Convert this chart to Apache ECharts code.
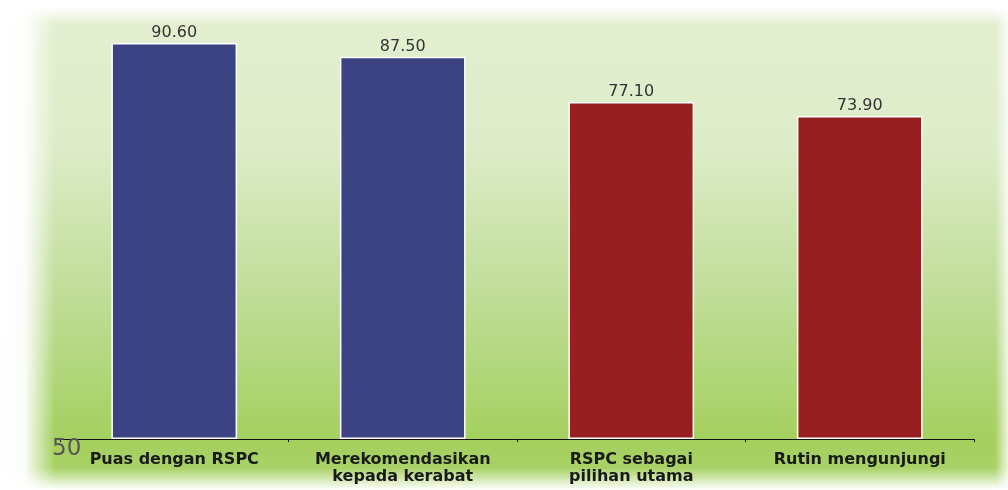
<!DOCTYPE html>
<html>
<head>
<meta charset="utf-8">
<script src="https://cdn.jsdelivr.net/npm/echarts@6/dist/echarts.min.js"></script>
<style>html,body{margin:0;padding:0;background:#fff}#c{width:1008px;height:490px}</style>
</head>
<body>
<div id="c"></div>
<script>
const categories = ['Puas dengan RSPC', 'Merekomendasikan\nkepada kerabat', 'RSPC sebagai\npilihan utama', 'Rutin mengunjungi'];
const values = [90.60, 87.50, 77.10, 73.90];
const barColors = ['#3b4382', '#3b4382', '#971f1f', '#971f1f'];
const baseLabel = '50';

const chart = echarts.init(document.getElementById('c'));
chart.setOption({
  animation: false,
  backgroundColor: '#ffffff',
  graphic: [
    { type: 'rect', z: -10, silent: true, shape: { x: 0, y: 0, width: 1008, height: 490 },
      style: { fill: new echarts.graphic.LinearGradient(0, 0, 0, 1, [
        { offset: 0, color: '#ffffff' },
        { offset: 0.015, color: '#ffffff' },
        { offset: 0.05, color: '#e3efd0' },
        { offset: 0.3, color: '#ddecc8' },
        { offset: 0.6, color: '#c0dd98' },
        { offset: 0.9, color: '#a4d05f' },
        { offset: 0.955, color: '#a9d266' },
        { offset: 1, color: '#ffffff' }
      ]) } },
    { type: 'rect', z: -9, silent: true, shape: { x: 0, y: 0, width: 55, height: 490 },
      style: { fill: new echarts.graphic.LinearGradient(0, 0, 1, 0, [
        { offset: 0, color: 'rgba(255,255,255,1)' },
        { offset: 0.45, color: 'rgba(255,255,255,0.95)' },
        { offset: 1, color: 'rgba(255,255,255,0)' }
      ]) } },
    { type: 'rect', z: -9, silent: true, shape: { x: 995, y: 0, width: 13, height: 490 },
      style: { fill: new echarts.graphic.LinearGradient(0, 0, 1, 0, [
        { offset: 0, color: 'rgba(255,255,255,0)' },
        { offset: 1, color: 'rgba(255,255,255,0.8)' }
      ]) } },
    { type: 'text', z: 10, left: 52, top: 438,
      style: { text: baseLabel, fill: '#555555', font: '23px "DejaVu Sans"' } }
  ],
  grid: { left: 60, right: 34, top: 2, bottom: 51, containLabel: false },
  xAxis: {
    type: 'category',
    data: categories,
    boundaryGap: true,
    axisLine: { show: true, lineStyle: { color: '#111111', width: 1 } },
    axisTick: { show: true, alignWithLabel: false, inside: false, length: 3, lineStyle: { color: '#111111' } },
    axisLabel: { interval: 0, margin: 12, color: '#1a1a1a', fontFamily: 'DejaVu Sans', fontWeight: 'bold', fontSize: 16, lineHeight: 17 },
    splitLine: { show: false }
  },
  yAxis: {
    type: 'value', min: 0, max: 100, show: false,
    splitLine: { show: false }
  },
  series: [{
    type: 'bar',
    data: values.map((v, i) => ({ value: v, itemStyle: { color: barColors[i] } })),
    barWidth: '55%',
    itemStyle: { borderColor: '#ffffff', borderWidth: 1.5 },
    label: {
      show: true, position: 'top', distance: 2,
      formatter: p => p.value.toFixed(2),
      color: '#333333', fontFamily: 'DejaVu Sans', fontSize: 16
    }
  }]
});
</script>
</body>
</html>
